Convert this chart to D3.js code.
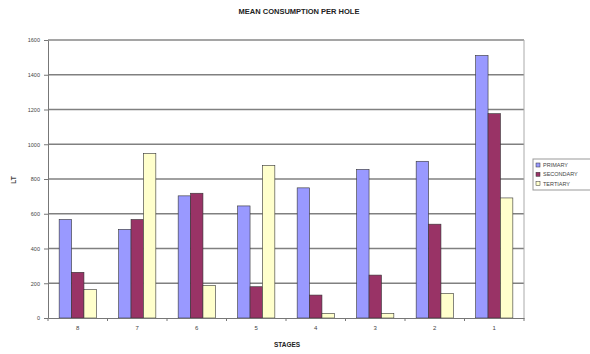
<!DOCTYPE html>
<html>
<head>
<meta charset="utf-8">
<script src="https://cdn.jsdelivr.net/npm/d3@7"></script>
<style>
  html, body { margin: 0; padding: 0; background: #fff; }
  svg { display: block; font-family: "Liberation Sans", Arial, sans-serif; }
</style>
</head>
<body>
<svg id="chart" width="590" height="354"></svg>
<script>
// Mean consumption per hole (LT) by stage
const stages = ["8", "7", "6", "5", "4", "3", "2", "1"];
const seriesNames = ["PRIMARY", "SECONDARY", "TERTIARY"];
const primary   = [567, 510, 703, 645, 749, 855, 902, 1511];
const secondary = [263, 567, 718, 180, 132, 247, 540, 1176];
const tertiary  = [163, 947, 188, 878, 27, 27, 142, 691];
const yTicks = [0, 200, 400, 600, 800, 1000, 1200, 1400, 1600];
const colors = ["#9999FF", "#993366", "#FFFFCC"];

const seriesValues = [primary, secondary, tertiary];

const svg = d3.select("#chart");
const plot = { left: 48, right: 524, top: 40, bottom: 318 };

const x0 = d3.scaleBand().domain(stages).range([plot.left, plot.right]).padding(0);
const x1 = d3.scaleBand().domain(seriesNames).range([0, x0.bandwidth()])
  .paddingInner(0).paddingOuter(0.9);
const y = d3.scaleLinear().domain([0, 1600]).range([plot.bottom, plot.top]);

// Gridlines
svg.append("g")
  .selectAll("line")
  .data(yTicks.slice(1))
  .join("line")
  .attr("x1", plot.left).attr("x2", plot.right)
  .attr("y1", d => y(d)).attr("y2", d => y(d))
  .attr("stroke", "#808080").attr("stroke-width", 1.5);

// Plot area frame (top and right)
svg.append("path")
  .attr("d", `M${plot.left},${plot.top}H${plot.right}V${plot.bottom}`)
  .attr("fill", "none").attr("stroke", "#aaa").attr("stroke-width", 1);

// Bars
const groups = svg.append("g")
  .selectAll("g")
  .data(stages)
  .join("g")
  .attr("transform", d => `translate(${x0(d)},0)`);

groups.selectAll("rect")
  .data((d, i) => seriesNames.map((s, j) => ({ s, v: seriesValues[j][i], j })))
  .join("rect")
  .attr("x", d => x1(d.s))
  .attr("width", x1.bandwidth())
  .attr("y", d => y(d.v))
  .attr("height", d => y(0) - y(d.v))
  .attr("fill", d => colors[d.j])
  .attr("stroke", "#333")
  .attr("stroke-width", 0.6);

// Y axis
const yAxis = svg.append("g")
  .attr("transform", `translate(${plot.left},0)`)
  .call(d3.axisLeft(y).tickValues(yTicks).tickFormat(d3.format("d")).tickSize(4).tickSizeOuter(0));
yAxis.select(".domain").attr("stroke", "#777");
yAxis.selectAll(".tick line").attr("stroke", "#777");
yAxis.selectAll("text").attr("font-size", 5.5).attr("fill", "#444").attr("dx", -1);

// X axis
const xAxis = svg.append("g")
  .attr("transform", `translate(0,${plot.bottom})`)
  .call(d3.axisBottom(x0).tickSize(0).tickPadding(8));
xAxis.select(".domain").attr("stroke", "#777");
xAxis.selectAll("text").attr("font-size", 6).attr("fill", "#444");

// Tick marks between categories
svg.append("g")
  .selectAll("line")
  .data(d3.range(stages.length + 1))
  .join("line")
  .attr("x1", i => plot.left + i * x0.step())
  .attr("x2", i => plot.left + i * x0.step())
  .attr("y1", plot.bottom).attr("y2", plot.bottom + 3)
  .attr("stroke", "#777");

// Titles
svg.append("text")
  .attr("x", 299).attr("y", 14)
  .attr("text-anchor", "middle")
  .attr("font-size", 7.5).attr("font-weight", "bold").attr("fill", "#222")
  .text("MEAN CONSUMPTION PER HOLE");

svg.append("text")
  .attr("x", 287).attr("y", 347)
  .attr("text-anchor", "middle")
  .attr("font-size", 6.5).attr("font-weight", "bold").attr("fill", "#222")
  .text("STAGES");

svg.append("text")
  .attr("transform", "translate(16,180) rotate(-90)")
  .attr("text-anchor", "middle")
  .attr("font-size", 6.5).attr("font-weight", "bold").attr("fill", "#444")
  .text("LT");

// Legend
const legend = svg.append("g").attr("transform", "translate(533,159)");
legend.append("rect")
  .attr("width", 60).attr("height", 31)
  .attr("fill", "#fff").attr("stroke", "#999").attr("stroke-width", 1);
const items = legend.selectAll("g.item")
  .data(seriesNames)
  .join("g").attr("class", "item")
  .attr("transform", (d, i) => `translate(3,${6 + i * 9.3})`);
items.append("rect")
  .attr("width", 4).attr("height", 4).attr("y", -2)
  .attr("fill", (d, i) => colors[i]).attr("stroke", "#333").attr("stroke-width", 0.5);
items.append("text")
  .attr("x", 7).attr("y", 2)
  .attr("font-size", 5.5).attr("fill", "#444")
  .text(d => d);
</script>
</body>
</html>
